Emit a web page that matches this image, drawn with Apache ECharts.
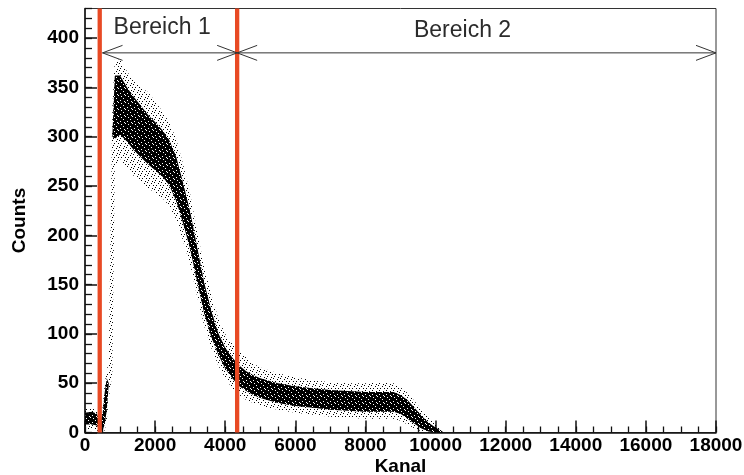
<!DOCTYPE html>
<html>
<head>
<meta charset="utf-8">
<script src="https://cdn.jsdelivr.net/npm/echarts@6/dist/echarts.min.js"></script>
<style>
html, body { margin: 0; padding: 0; background: #fff; }
#chart { width: 744px; height: 475px; }
</style>
</head>
<body>
<div id="chart"></div>
<script>
// Stützstellen des Spektrums (Kanal)
const kanal = [0, 200, 340, 420, 500, 560, 620, 680, 780, 850, 1000, 1200, 1400, 1600, 1800,
  2000, 2200, 2400, 2600, 2800, 3000, 3200, 3400, 3600, 3800, 4000, 4200, 4400, 4600, 4800,
  5000, 5500, 6000, 6500, 7000, 7500, 8000, 8500, 8800, 9000, 9200, 9400, 9600, 9800, 10000, 10200];
// dichter Kern der Punktwolke: untere / obere Grenze (Counts)
const kernUnten = [8, 8, 7, 2, 2, 8, 22, 50, 300, 298, 302, 295, 286, 279, 272,
  266, 260, 251, 235, 212, 186, 153, 121, 97, 79, 65, 55, 47, 42, 38,
  35, 30, 27, 25, 23, 22, 21, 21, 21, 19, 14, 9, 4, 1, 0, 0];
const kernOben = [20, 21, 19, 10, 18, 40, 55, 50, 300, 362, 362, 350, 340, 331, 322,
  315, 307, 297, 280, 253, 224, 188, 152, 124, 101, 86, 76, 68, 62, 58,
  55, 50, 47, 45, 43, 42, 41, 41, 41, 38, 33, 25, 17, 10, 5, 1];
// vereinzelte Streupunkte um den Kern: untere / obere Grenze (Counts)
const streuUnten = [3, 3, 2, 0, 0, 2, 12, 35, 60, 270, 278, 268, 260, 254, 248,
  243, 238, 230, 216, 194, 170, 138, 108, 86, 68, 55, 45, 38, 33, 30,
  27, 23, 20, 18, 16, 15, 14, 14, 14, 12, 8, 4, 1, 0, 0, 0];
const streuOben = [24, 25, 23, 14, 24, 50, 62, 75, 330, 378, 378, 366, 356, 350, 345,
  336, 326, 315, 298, 272, 242, 204, 168, 140, 116, 100, 90, 84, 76, 70,
  66, 60, 56, 53, 51, 50, 50, 51, 50, 46, 40, 32, 23, 15, 8, 2];

// Bereichsgrenzen (Kanal) und Bereiche
const grenzen = [420, 4340];
const bereichNamen = ['Bereich 1', 'Bereich 2'];
const bereichVon = [500, 4340];
const bereichBis = [4340, 18000];

// Achsenbeschriftung
const xTicks = [0, 2000, 4000, 6000, 8000, 10000, 12000, 14000, 16000, 18000];
const yTicks = [0, 50, 100, 150, 200, 250, 300, 350, 400];

// Layout
const X_MAX = 18000;
const Y_MAX = 430;
const PFEIL_Y = 385;
const TEXT_ANKER = [[2200, 411], [10770, 408]];
const FONT = '"Liberation Sans", Arial, Helvetica, sans-serif';

// Punktraster als Füllmuster: Kern fast deckend, Randbereich locker gepunktet
function raster(groesse, grund, punktFarbe, punkte) {
  const c = document.createElement('canvas');
  c.width = groesse; c.height = groesse;
  const g = c.getContext('2d');
  if (grund) { g.fillStyle = grund; g.fillRect(0, 0, groesse, groesse); }
  g.fillStyle = punktFarbe;
  punkte.forEach(p => {
    if (punktFarbe === 'clear') g.clearRect(p[0], p[1], 1, 1);
    else g.fillRect(p[0], p[1], 1, 1);
  });
  return { image: c, repeat: 'repeat' };
}
const kernMuster = raster(7, '#000', 'clear', [[1, 2], [4, 0], [6, 4], [2, 5], [5, 3]]);
const streuMuster = raster(7, null, '#000', [[0, 0], [4, 1], [2, 3], [6, 3], [1, 5], [5, 6]]);

// Band zwischen unterer und oberer Grenze als ein geschlossenes Polygon
function bandSerie(name, unten, oben, fuellung, z) {
  return {
    name: name,
    type: 'custom',
    silent: true,
    z: z,
    xAxisIndex: 0, yAxisIndex: 0,
    data: kanal.map((k, i) => [k, unten[i], oben[i]]),
    renderItem: function (params, api) {
      if (params.dataIndex !== 0) return null;
      const punkte = [];
      for (let i = 0; i < kanal.length; i++) punkte.push(api.coord([kanal[i], oben[i]]));
      for (let i = kanal.length - 1; i >= 0; i--) punkte.push(api.coord([kanal[i], unten[i]]));
      return { type: 'polygon', shape: { points: punkte }, style: { fill: fuellung, stroke: null } };
    }
  };
}

function zeichnePfeil(params, api) {
  const von = api.coord([api.value(0), api.value(2)]);
  const bis = api.coord([api.value(1), api.value(2)]);
  const L = 20, H = 7.5;
  const stil = { stroke: '#333', lineWidth: 1, fill: null };
  const tp = api.coord(TEXT_ANKER[params.dataIndex]);
  return {
    type: 'group',
    children: [
      { type: 'line', shape: { x1: von[0], y1: von[1], x2: bis[0], y2: bis[1] }, style: stil },
      { type: 'polyline', shape: { points: [[von[0] + L, von[1] - H], [von[0], von[1]], [von[0] + L, von[1] + H]] }, style: stil },
      { type: 'polyline', shape: { points: [[bis[0] - L, bis[1] - H], [bis[0], bis[1]], [bis[0] - L, bis[1] + H]] }, style: stil },
      { type: 'text', x: tp[0], y: tp[1],
        style: { text: bereichNamen[params.dataIndex], fontSize: 23, fontFamily: FONT,
                 fill: '#2b2b2b', align: 'center', verticalAlign: 'middle' } }
    ]
  };
}

const achsenStil = { show: true, lineStyle: { color: '#111', width: 1.5 } };
const zahl = v => String(v);

const chart = echarts.init(document.getElementById('chart'), null, { renderer: 'canvas' });
chart.setOption({
  animation: false,
  backgroundColor: '#fff',
  grid: { left: 85, right: 28, top: 8.5, bottom: 42.5, containLabel: false, outerBoundsMode: 'none',
          show: true, borderColor: '#333', borderWidth: 1, backgroundColor: 'transparent' },
  xAxis: [
    {
      type: 'value', min: 0, max: X_MAX, interval: 2000, position: 'bottom',
      name: 'Kanal', nameLocation: 'middle', nameGap: 25, nameMoveOverlap: false,
      nameTextStyle: { fontFamily: FONT, fontWeight: 'bold', fontSize: 19, color: '#000' },
      axisLine: achsenStil,
      axisTick: { show: true, inside: true, length: 12, customValues: xTicks,
                  lineStyle: { color: '#111', width: 1.5 } },
      axisLabel: { show: true, customValues: xTicks, formatter: zahl, margin: 4, fontFamily: FONT,
                   fontWeight: 'bold', fontSize: 19, color: '#000' },
      splitLine: { show: false }
    },
    {
      type: 'value', min: 0, max: X_MAX, interval: 500, position: 'bottom',
      axisLine: { show: false },
      axisTick: { show: true, inside: true, length: 6, lineStyle: { color: '#111', width: 1.3 } },
      axisLabel: { show: false },
      splitLine: { show: false }
    }
  ],
  yAxis: [
    {
      type: 'value', min: 0, max: Y_MAX, interval: 50, position: 'left',
      name: 'Counts', nameLocation: 'middle', nameGap: 56, nameRotate: 90, nameMoveOverlap: false,
      nameTextStyle: { fontFamily: FONT, fontWeight: 'bold', fontSize: 19, color: '#000' },
      axisLine: achsenStil,
      axisTick: { show: true, inside: true, length: 12, customValues: yTicks,
                  lineStyle: { color: '#111', width: 1.5 } },
      axisLabel: { show: true, customValues: yTicks, formatter: zahl, margin: 6, fontFamily: FONT,
                   fontWeight: 'bold', fontSize: 19, color: '#000' },
      splitLine: { show: false }
    },
    {
      type: 'value', min: 0, max: Y_MAX, interval: 10, position: 'left',
      axisLine: { show: false },
      axisTick: { show: true, inside: true, length: 7, lineStyle: { color: '#111', width: 1.3 } },
      axisLabel: { show: false },
      splitLine: { show: false }
    }
  ],
  series: [
    bandSerie('streu', streuUnten, streuOben, streuMuster, 1),
    bandSerie('kern', kernUnten, kernOben, kernMuster, 2),
    {
      name: 'grenzen',
      type: 'custom',
      silent: true,
      z: 5,
      xAxisIndex: 0, yAxisIndex: 0,
      data: grenzen.map(g => [g, 0, Y_MAX]),
      renderItem: function (params, api) {
        const a = api.coord([api.value(0), api.value(1)]);
        const b = api.coord([api.value(0), api.value(2)]);
        return { type: 'line', shape: { x1: a[0], y1: a[1], x2: b[0], y2: b[1] },
                 style: { stroke: '#e84a24', lineWidth: 4.3 } };
      }
    },
    {
      name: 'bereiche',
      type: 'custom',
      silent: true,
      z: 6,
      clip: false,
      xAxisIndex: 0, yAxisIndex: 0,
      data: bereichVon.map((v, i) => [v, bereichBis[i], PFEIL_Y]),
      renderItem: zeichnePfeil
    }
  ]
});
</script>
</body>
</html>
